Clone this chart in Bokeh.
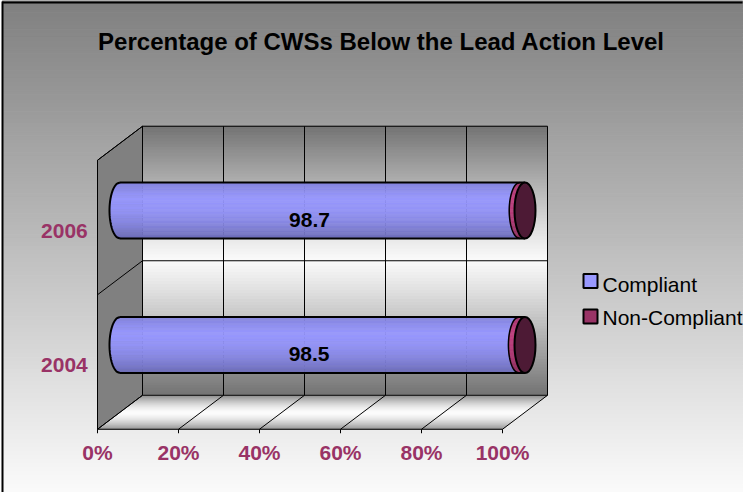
import numpy as np
from bokeh.plotting import figure
from bokeh.models import Range1d
from bokeh.core.properties import value
from bokeh.embed import file_html
from bokeh.resources import INLINE

# ---------------- data ----------------
years = ["2004", "2006"]
compliant = [98.5, 98.7]
non_compliant = [1.5, 1.3]
x_ticks = [0, 20, 40, 60, 80, 100]
x_tick_labels = ["0%", "20%", "40%", "60%", "80%", "100%"]
series_names = ["Compliant", "Non-Compliant"]
series_colors = ["#9999FF", "#993366"]
cap_color = "#4d1a35"
title_text = "Percentage of CWSs Below the Lead Action Level"

# ---------------- geometry (style) ----------------
W, H = 746, 492
REF_W, REF_H = 746, 492
X0, PXX = 97.0, 4.05      # front plane: 0 % at ref x 97, px per %
Y0, PXY = 361.5, 134.5    # front plane: first category centre, px per category
BASE_FIX = 0.38           # em shift: rendered baseline sits lower than asked


def rx(X):
    return (X - X0) / PXX


def ry(Y):
    return (Y0 - Y) / PXY


DX = 45 / PXX      # depth shift in x units
DY = 34 / PXY      # depth shift in y units
FONT = value("Liberation Sans")

p = figure(width=W, height=H, x_range=Range1d(rx(0), rx(REF_W)),
           y_range=Range1d(ry(REF_H), ry(0)), output_backend="svg",
           toolbar_location=None, min_border=0, x_axis_type=None,
           y_axis_type=None)
p.grid.visible = False
p.outline_line_color = None
p.background_fill_color = "white"
p.border_fill_color = "white"


def gray(v):
    v = int(max(0, min(255, round(v))))
    return "#%02x%02x%02x" % (v, v, v)


# ---------------- page background gradient ----------------
nb = 120
edges = np.linspace(0, REF_H, nb + 1)
tops = [ry(e) for e in edges[:-1]]
bots = [ry(e) for e in edges[1:]]
cols = [gray(127 + (251 - 127) * ((a + b) / 2) / REF_H) for a, b in zip(edges[:-1], edges[1:])]
p.quad(left=rx(2), right=rx(742), top=tops, bottom=bots, fill_color=cols,
       line_color=cols, line_width=1)
p.line([rx(2), rx(742)], [ry(2), ry(2)], line_color="black", line_width=2)
p.line([rx(2), rx(2)], [ry(1), ry(REF_H)], line_color="black", line_width=2)

nc = len(years)
ylo, yhi = -0.5, nc - 0.5
xmin, xmax = x_ticks[0], x_ticks[-1]

# ---------------- back wall ----------------
nw = 90
t_edges = np.linspace(0, 1, nw + 1)
bw_top = [yhi + DY - (yhi - ylo) * t for t in t_edges[:-1]]
bw_bot = [yhi + DY - (yhi - ylo) * t for t in t_edges[1:]]
bw_col = [gray(250 - 135 * abs(2 * ((a + b) / 2) - 1) ** 1.1) for a, b in zip(t_edges[:-1], t_edges[1:])]
p.quad(left=xmin + DX, right=xmax + DX, top=bw_top, bottom=bw_bot,
       fill_color=bw_col, line_color=bw_col, line_width=1)

# ---------------- side wall ----------------
p.patch([xmin, xmin, xmin + DX, xmin + DX], [ylo, yhi, yhi + DY, ylo + DY],
        fill_color="#808080", line_color="black", line_width=1)

# ---------------- floor ----------------
nf = 34
d_edges = np.linspace(0, 1, nf + 1)
fxs, fys, fcol = [], [], []
for a, b in zip(d_edges[:-1], d_edges[1:]):
    fxs.append([xmin + a * DX, xmax + a * DX, xmax + b * DX, xmin + b * DX])
    fys.append([ylo + a * DY, ylo + a * DY, ylo + b * DY, ylo + b * DY])
    fcol.append(gray(252 - 110 * abs(2 * ((a + b) / 2) - 1) ** 1.6))
p.patches(fxs, fys, fill_color=fcol, line_color=fcol, line_width=0.8)

# ---------------- grid lines & frame edges ----------------
for v in x_ticks:
    p.line([v + DX, v + DX], [ylo + DY, yhi + DY], line_color="black", line_width=1)
    p.line([v, v + DX], [ylo, ylo + DY], line_color="black", line_width=1)
for k in range(nc + 1):
    yk = ylo + k
    p.line([xmin + DX, xmax + DX], [yk + DY, yk + DY], line_color="black", line_width=1)
    p.line([xmin, xmin + DX], [yk, yk + DY], line_color="black", line_width=1)
p.line([xmin, xmax], [ylo, ylo], line_color="black", line_width=1)
p.line([xmin, xmin], [ylo, yhi], line_color="black", line_width=1)
p.segment(x0=x_ticks, y0=[ylo] * len(x_ticks), x1=x_ticks,
          y1=[ylo - 4 / PXY] * len(x_ticks), line_color="black", line_width=1)

# ---------------- cylinders ----------------
R_y = 28 / PXY
R_x = 10.5 / PXX


def shade(hex_color, t, boost=1.0):
    r, g, b = int(hex_color[1:3], 16), int(hex_color[3:5], 16), int(hex_color[5:7], 16)
    pts_t = [0.0, 0.12, 0.3, 0.5, 0.7, 0.88, 1.0]
    pts_f = [0.86, 0.93, 1.0, 0.97, 0.9, 0.8, 0.72]
    f = np.interp(t, pts_t, pts_f) * boost
    return "#%02x%02x%02x" % tuple(int(max(0, min(255, c * f))) for c in (r, g, b))


ns = 44
u_edges = np.linspace(1, -1, ns + 1)


def w(u):
    return R_x * np.sqrt(max(0.0, 1 - u * u))


for i in range(nc):
    yc = i + DY / 2
    xs0 = DX / 2
    starts = [0, compliant[i]]
    ends = [compliant[i], compliant[i] + non_compliant[i]]
    boosts = [1.0, 1.25]
    for s in range(2):
        a, b = starts[s], ends[s]
        last = s == 1
        pxs, pys, pcs = [], [], []
        for k in range(ns):
            u0, u1 = u_edges[k], u_edges[k + 1]
            y0_, y1_ = yc + R_y * u0, yc + R_y * u1
            be0 = b if last else b - w(u0)
            be1 = b if last else b - w(u1)
            pxs.append([xs0 + a - w(u0), xs0 + be0, xs0 + be1, xs0 + a - w(u1)])
            pys.append([y0_, y0_, y1_, y1_])
            pcs.append(shade(series_colors[s], (k + 0.5) / ns, boosts[s]))
        p.patches(pxs, pys, fill_color=pcs, line_color=pcs, line_width=0.6)
    uu = np.linspace(1, -1, 61)
    # silhouette + boundary arcs
    p.line([xs0 + 0 - w(u) for u in uu], [yc + R_y * u for u in uu], line_color="black", line_width=2)
    p.line([xs0 + compliant[i] - w(u) for u in uu], [yc + R_y * u for u in uu],
           line_color="black", line_width=1.5)
    total = compliant[i] + non_compliant[i]
    p.line([xs0, xs0 + total], [yc + R_y, yc + R_y], line_color="black", line_width=2)
    p.line([xs0, xs0 + total], [yc - R_y, yc - R_y], line_color="black", line_width=2)
    p.ellipse(x=[xs0 + total], y=[yc], width=2 * R_x, height=2 * R_y,
              fill_color=cap_color, line_color="black", line_width=2)

FS = 21
# data labels
p.text(x=[c / 2 + 0.27 * DX for c in compliant], y=[i + DY / 2 for i in range(nc)],
       text=["%.1f" % c for c in compliant], text_align="center",
       text_baseline="alphabetic", y_offset=17 - BASE_FIX * FS, text_font=FONT,
       text_font_style="bold", text_font_size="%dpx" % FS, text_color="black")

# category labels
p.text(x=[xmin] * nc, y=list(range(nc)), text=years, text_align="right",
       text_baseline="alphabetic", x_offset=-9.7, y_offset=11 - BASE_FIX * FS,
       text_font=FONT, text_font_style="bold", text_font_size="%dpx" % FS,
       text_color="#993366")

# tick labels
p.text(x=x_ticks, y=[ylo] * len(x_ticks), text=x_tick_labels, text_align="center",
       text_baseline="alphabetic", y_offset=31 - BASE_FIX * FS, text_font=FONT,
       text_font_style="bold", text_font_size="%dpx" % FS, text_color="#993366")

# title
TFS = 24
p.text(x=[rx(381)], y=[ry(50)], text=[title_text], text_align="center",
       text_baseline="alphabetic", y_offset=-BASE_FIX * TFS, text_font=FONT,
       text_font_style="bold", text_font_size="%dpx" % TFS, text_color="black")

# legend
leg_y_sq = [280.5, 316]
leg_y_tx = [291.5, 325]
p.rect(x=[rx(590)] * 2, y=[ry(v) for v in leg_y_sq], width=14, height=14,
       width_units="screen", height_units="screen", fill_color=series_colors,
       line_color="black", line_width=2)
p.text(x=[rx(602)] * 2, y=[ry(v) for v in leg_y_tx], text=series_names,
       text_align="left", text_baseline="alphabetic", y_offset=-BASE_FIX * FS,
       text_font=FONT, text_font_size="%dpx" % FS, text_color="black")

open("out.html", "w").write(file_html(p, INLINE))
